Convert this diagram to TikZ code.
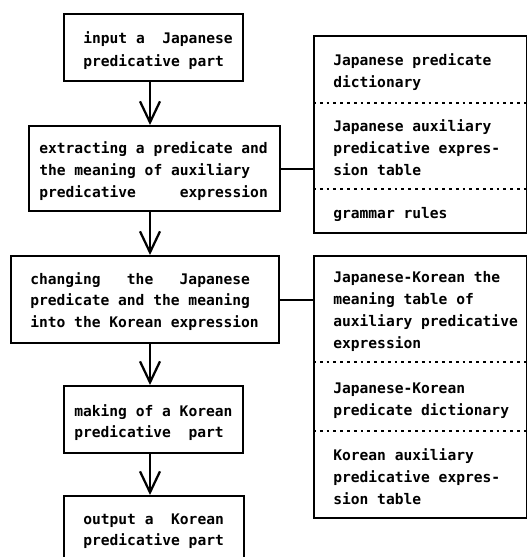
\documentclass[tikz,border=0pt]{standalone}
\usepackage{fontspec}
\setmonofont{DejaVu Sans Mono}
\usetikzlibrary{arrows.meta}
\begin{document}
\begin{tikzpicture}[x=0.75pt,y=-0.75pt,
  box/.style={draw,line width=1.7pt,inner sep=0,anchor=north west},
  txt/.style={anchor=base west,inner sep=0,font=\fontsize{10.95}{13}\ttfamily\bfseries},
  link/.style={line width=1.7pt},
  flow/.style={line width=1.7pt,-{Straight Barb[length=15.75pt,width=15pt,line width=1.7pt]}},
  sepline/.style={line width=1.6pt,dash pattern=on 2.1pt off 3pt}]
\useasboundingbox (0,0) rectangle (526,557);
% left boxes
\node[box,minimum width=179*0.75pt,minimum height=67*0.75pt] (b1) at (63,13) {};
\node[box,minimum width=251*0.75pt,minimum height=85*0.75pt] (b2) at (28,125) {};
\node[box,minimum width=268*0.75pt,minimum height=87*0.75pt] (b3) at (10,255) {};
\node[box,minimum width=179*0.75pt,minimum height=67*0.75pt] (b4) at (63,385) {};
\node[box,minimum width=180*0.75pt,minimum height=75*0.75pt] (b5) at (63,495) {};
% right boxes
\node[box,minimum width=213*0.75pt,minimum height=197*0.75pt] (r1) at (313,35) {};
\node[box,minimum width=213*0.75pt,minimum height=262*0.75pt] (r2) at (313,255) {};
\coordinate (s1) at (0,103);
\coordinate (s2) at (0,189);
\coordinate (s3) at (0,362);
\coordinate (s4) at (0,431);
\draw[sepline] (r1.west |- s1) -- (r1.east |- s1);
\draw[sepline] (r1.west |- s2) -- (r1.east |- s2);
\draw[sepline] (r2.west |- s3) -- (r2.east |- s3);
\draw[sepline] (r2.west |- s4) -- (r2.east |- s4);
% arrows
\coordinate (ax) at (150,0);
\draw[flow] (b1.south -| ax) -- (b2.north -| ax);
\draw[flow] (b2.south -| ax) -- (b3.north -| ax);
\draw[flow] (b3.south -| ax) -- (b4.north -| ax);
\draw[flow] (b4.south -| ax) -- (b5.north -| ax);
% links
\draw[link] (b2.east) -- (r1.west |- b2.east);
\draw[link] (b3.east) -- (r2.west |- b3.east);
% texts
\node[txt] (t1a) at (83,43) {input~a~~Japanese};
\node[txt] (t1b) at (83,66) {predicative part};
\node[txt] (t2a) at (39,153) {extracting a predicate and};
\node[txt] (t2b) at (39,175) {the meaning of auxiliary};
\node[txt] (t2c) at (39,197) {predicative~~~~~expression};
\node[txt] (t3a) at (30,284) {changing~~~the~~~Japanese};
\node[txt] (t3b) at (30,305) {predicate and the meaning};
\node[txt] (t3c) at (30,327) {into the Korean expression};
\node[txt] (t4a) at (74,416) {making of a Korean};
\node[txt] (t4b) at (74,437) {predicative~~part};
\node[txt] (t5a) at (83,524) {output~a~~Korean};
\node[txt] (t5b) at (83,545) {predicative part};
\node[txt] (r1a) at (333,65) {Japanese predicate};
\node[txt] (r1b) at (333,87) {dictionary};
\node[txt] (r1c) at (333,131) {Japanese auxiliary};
\node[txt] (r1d) at (333,153) {predicative expres-};
\node[txt] (r1e) at (333,175) {sion table};
\node[txt] (r1f) at (333,218) {grammar rules};
\node[txt] (r2a) at (333,282) {Japanese-Korean the};
\node[txt] (r2b) at (333,304) {meaning table of};
\node[txt] (r2c) at (333,326) {auxiliary predicative};
\node[txt] (r2d) at (333,348) {expression};
\node[txt] (r2e) at (333,393) {Japanese-Korean};
\node[txt] (r2f) at (333,415) {predicate dictionary};
\node[txt] (r2g) at (333,460) {Korean auxiliary};
\node[txt] (r2h) at (333,482) {predicative expres-};
\node[txt] (r2i) at (333,504) {sion table};
\end{tikzpicture}
\end{document}
